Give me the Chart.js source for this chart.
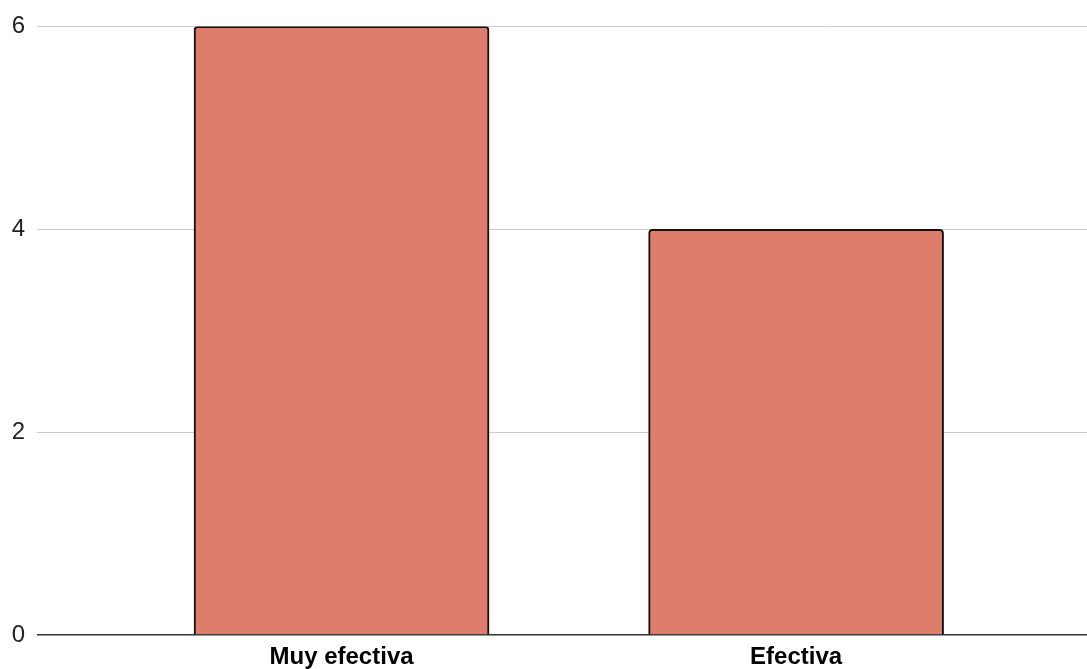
<!DOCTYPE html>
<html>
<head>
<meta charset="utf-8">
<script src="https://cdn.jsdelivr.net/npm/chart.js@4.4.1/dist/chart.umd.min.js"></script>
<style>
  html, body { margin: 0; padding: 0; background: #fff; overflow: hidden; }
  #wrap { width: 1087px; height: 669px; }
</style>
</head>
<body>
<div id="wrap"><canvas id="myChart"></canvas></div>
<script>
var categories = ["Muy efectiva", "Efectiva"];
var counts = [6, 4];
var yTicks = [0, 2, 4, 6];

// bars sit on a linear x axis so the left/right margins can be set freely
var points = categories.map(function (c, i) { return { x: i, y: counts[i] }; });

var ctx = document.getElementById("myChart").getContext("2d");
var chart = new Chart(ctx, {
  type: "bar",
  data: {
    datasets: [
      {
        label: "Respuestas",
        data: points,
        backgroundColor: "rgb(222, 125, 107)",
        borderColor: "#111",
        borderWidth: 2,
        borderRadius: { topLeft: 4, topRight: 4 },
        borderSkipped: "bottom",
        barThickness: 295
      }
    ]
  },
  options: {
    responsive: true,
    maintainAspectRatio: false,
    animation: false,
    layout: { padding: { top: 26, right: 0, left: 0, bottom: 0 } },
    plugins: { legend: { display: false }, tooltip: { enabled: false } },
    scales: {
      x: {
        type: "linear",
        offset: false,
        min: -0.67,
        max: 1.64,
        grid: { display: false },
        border: { display: false },
        afterBuildTicks: function (scale) {
          scale.ticks = categories.map(function (c, i) { return { value: i }; });
        },
        afterFit: function (scale) { scale.height = 34; },
        ticks: {
          padding: 0,
          color: "#000",
          font: { family: "Liberation Sans, Arial", size: 24, weight: "bold" },
          callback: function (v) { return categories[v]; },
          maxRotation: 0,
          autoSkip: false
        }
      },
      y: {
        min: 0,
        max: 6,
        afterBuildTicks: function (scale) {
          scale.ticks = yTicks.map(function (v) { return { value: v }; });
        },
        afterFit: function (scale) { scale.width = 37; },
        grid: {
          drawTicks: false,
          color: function (c) { return c.tick && c.tick.value === 0 ? "#333" : "#ccc"; },
          lineWidth: function (c) { return c.tick && c.tick.value === 0 ? 1.5 : 1; }
        },
        border: { display: false },
        ticks: {
          padding: 12,
          color: "#222",
          font: { family: "Liberation Sans, Arial", size: 24 }
        }
      }
    }
  }
});
</script>
</body>
</html>
